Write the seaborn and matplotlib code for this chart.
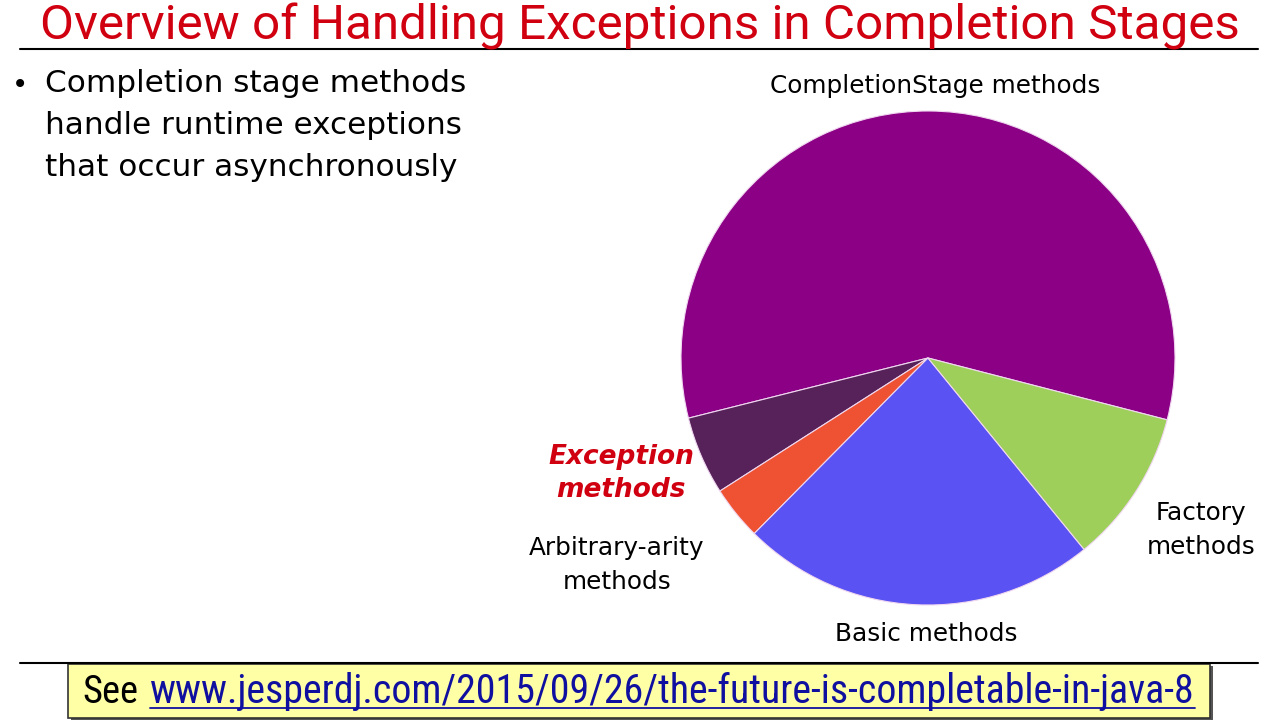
import matplotlib
matplotlib.use("Agg")
import matplotlib.pyplot as plt
import seaborn as sns
from matplotlib.patches import Rectangle
from matplotlib.lines import Line2D

# slice sizes in degrees
categories = ["CompletionStage methods", "Exception methods", "Arbitrary-arity methods",
              "Basic methods", "Factory methods"]
sizes = [208.6, 18.5, 12.7, 83.9, 36.3]
colors = ["#8C0085", "#57225A", "#EE5232", "#5A52F2", "#9ECF5B"]

title = "Overview of Handling Exceptions in Completion Stages"
bullet_lines = ["Completion stage methods", "handle runtime exceptions",
                "that occur asynchronously"]
url = "www.jesperdj.com/2015/09/26/the-future-is-completable-in-java-8"

sns.set_theme(style="white")
plt.rcParams['font.family'] = ['DejaVu Sans']

fig = plt.figure(figsize=(12.8, 7.2), dpi=100)
W, H = 1280, 720
narrow = ["Roboto Condensed", "DejaVu Sans"]


def fx(x):
    return x / W


def fy(y):
    return 1 - y / H


def fit_width(txt, width):
    # shrink/grow the font so the text spans the given pixel width
    fig.canvas.draw()
    w = txt.get_window_extent().width
    txt.set_fontsize(txt.get_fontsize() * width / w)


# title and rules
t = fig.text(fx(640), fy(40), title, ha="center", va="baseline", color="#D00010",
             fontsize=36, family=["Roboto", "DejaVu Sans"])
fit_width(t, 1200)
fig.add_artist(Line2D([fx(20), fx(1258)], [fy(49), fy(49)], color="black", lw=1.5))
fig.add_artist(Line2D([fx(20), fx(1258)], [fy(663), fy(663)], color="black", lw=1.5))

# bullet
fig.text(fx(20), fy(85), "\u2022", ha="center", va="center", fontsize=20, color="black")
for i, line in enumerate(bullet_lines):
    fig.text(fx(45), fy(83 + 42.5 * i), line, ha="left", va="center", fontsize=22.4,
             color="black")

# pie
cx, cy, r = 928, 358, 247
ax = fig.add_axes([fx(cx - r), fy(cy + r), (2 * r) / W, (2 * r) / H])
ax.pie(sizes, colors=colors, startangle=-14.5, counterclock=True,
       wedgeprops=dict(edgecolor="#f0d8f0", linewidth=0.8))
ax.set_xlim(-1, 1)
ax.set_ylim(-1, 1)
ax.set_aspect("auto")
ax.axis("off")

# slice labels
lab = dict(fontsize=17.8, color="black", ha="center", va="center")
fig.text(fx(935), fy(86), categories[0], **lab)
fig.text(fx(1201), fy(513), "Factory", **lab)
fig.text(fx(1201), fy(547), "methods", **lab)
fig.text(fx(926), fy(634), categories[3], **lab)
fig.text(fx(617), fy(548), "Arbitrary-arity", **lab)
fig.text(fx(617), fy(582), "methods", **lab)
exc = dict(fontsize=19, color="#D00010", ha="center", va="center",
           fontweight="bold", fontstyle="italic")
fig.text(fx(621), fy(457), "Exception", **exc)
fig.text(fx(621), fy(490), "methods", **exc)

# footer box with link
fig.add_artist(Rectangle((fx(71), fy(721)), fx(1142), 55 / H, transform=fig.transFigure,
                         facecolor="#555555", edgecolor="none"))
fig.add_artist(Rectangle((fx(68), fy(718)), fx(1142), 54 / H, transform=fig.transFigure,
                         facecolor="#FFFFA6", edgecolor="#333333", lw=1.2))
t1 = fig.text(fx(82), fy(703), "See", ha="left", va="baseline", fontsize=23, color="black",
              family=narrow)
fit_width(t1, 56)
t2 = fig.text(fx(150), fy(703), url, ha="left", va="baseline", fontsize=21, color="#1010A0",
              family=narrow)
fit_width(t2, 1196 - 150)
fig.canvas.draw()
bb2 = t2.get_window_extent()
fig.add_artist(Line2D([bb2.x0 / W, bb2.x1 / W], [fy(708), fy(708)], color="#1010A0", lw=1.3))

fig.savefig("out.png", dpi=100, facecolor="white")
